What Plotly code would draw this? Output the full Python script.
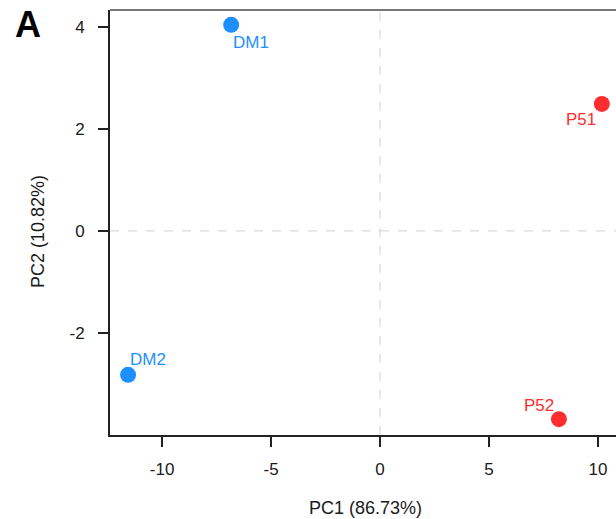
import plotly.graph_objects as go

samples = ["DM1", "DM2", "P51", "P52"]
pc1 = [-6.83, -11.56, 10.18, 8.21]
pc2 = [4.04, -2.82, 2.49, -3.69]
groups = ["DM", "DM", "P5", "P5"]
colors = {"DM": "#1E8FFF", "P5": "#FF2D2D"}
x_ticks = [-10, -5, 0, 5, 10]
x_ticktext = ["-10", "-5", "0", "5", "10"]
y_ticks = [-2, 0, 2, 4]
y_ticktext = ["-2", "0", "2", "4"]

# label placement: (xanchor, xshift, yshift)
label_pos = {"DM1": ("left", 0, -18), "DM2": ("left", 0, 15),
             "P51": ("right", -4, -16), "P52": ("right", -3, 14)}

FONT = "Liberation Sans, Arial, sans-serif"

fig = go.Figure()
for g in ["DM", "P5"]:
    idx = [i for i, gg in enumerate(groups) if gg == g]
    fig.add_trace(go.Scatter(
        x=[pc1[i] for i in idx], y=[pc2[i] for i in idx], mode="markers",
        marker=dict(color=colors[g], size=16, line=dict(width=0)),
        showlegend=False, hoverinfo="skip", cliponaxis=False))

for s, x, y, g in zip(samples, pc1, pc2, groups):
    xa, xs, ys = label_pos[s]
    fig.add_annotation(x=x, y=y, text=s, showarrow=False, xanchor=xa, yanchor="middle",
                       xshift=xs, yshift=ys, font=dict(color=colors[g], size=17, family=FONT))

# zero reference lines
fig.add_shape(type="line", xref="x", yref="paper", x0=0, x1=0, y0=0, y1=1,
              line=dict(color="#d0d0d0", width=1, dash="dash"), layer="below")
fig.add_shape(type="line", xref="paper", yref="y", x0=0, x1=1, y0=0, y1=0,
              line=dict(color="#d0d0d0", width=1, dash="dash"), layer="below")
# top border
fig.add_shape(type="line", xref="paper", yref="paper", x0=0, x1=1, y0=1, y1=1,
              line=dict(color="#777777", width=2))

# panel letter
fig.add_annotation(x=(28 - 110) / 506, y=(435 - 25) / 425, xref="paper", yref="paper",
                   text="<b>A</b>", showarrow=False, xanchor="center", yanchor="middle",
                   font=dict(size=36, color="#000000", family=FONT))
# axis titles
fig.add_annotation(x=(365 - 110) / 506, y=-(508 - 435) / 425, xref="paper", yref="paper",
                   text="PC1 (86.73%)", showarrow=False, xanchor="center", yanchor="middle",
                   font=dict(size=18, color="#1a1a1a", family=FONT))
fig.add_annotation(x=(38 - 110) / 506, y=(435 - 232) / 425, xref="paper", yref="paper",
                   text="PC2 (10.82%)", showarrow=False, xanchor="center", yanchor="middle",
                   textangle=-90, font=dict(size=18, color="#1a1a1a", family=FONT))

axis_font = dict(size=17, color="#1a1a1a", family=FONT)
fig.update_layout(
    width=616, height=519,
    margin=dict(l=110, r=0, t=10, b=84),
    paper_bgcolor="white", plot_bgcolor="white",
    font=dict(family=FONT),
    xaxis=dict(range=[-12.39, 10.83], tickvals=x_ticks, ticktext=x_ticktext,
               showgrid=False, zeroline=False, automargin=False,
               showline=True, linecolor="#222222", linewidth=2, ticks="outside",
               ticklen=10, tickwidth=1.5, tickcolor="#222222", tickfont=axis_font,
               ticklabelstandoff=8),
    yaxis=dict(range=[-4.0, 4.33], tickvals=y_ticks, ticktext=y_ticktext,
               showgrid=False, zeroline=False, automargin=False,
               showline=True, linecolor="#222222", linewidth=2, ticks="outside",
               ticklen=10, tickwidth=1.5, tickcolor="#222222", tickfont=axis_font,
               ticklabelstandoff=10),
)

fig.write_html("out.html", config={"displayModeBar": False},
               post_script="document.body.style.margin='0px';document.body.style.overflow='hidden';")
